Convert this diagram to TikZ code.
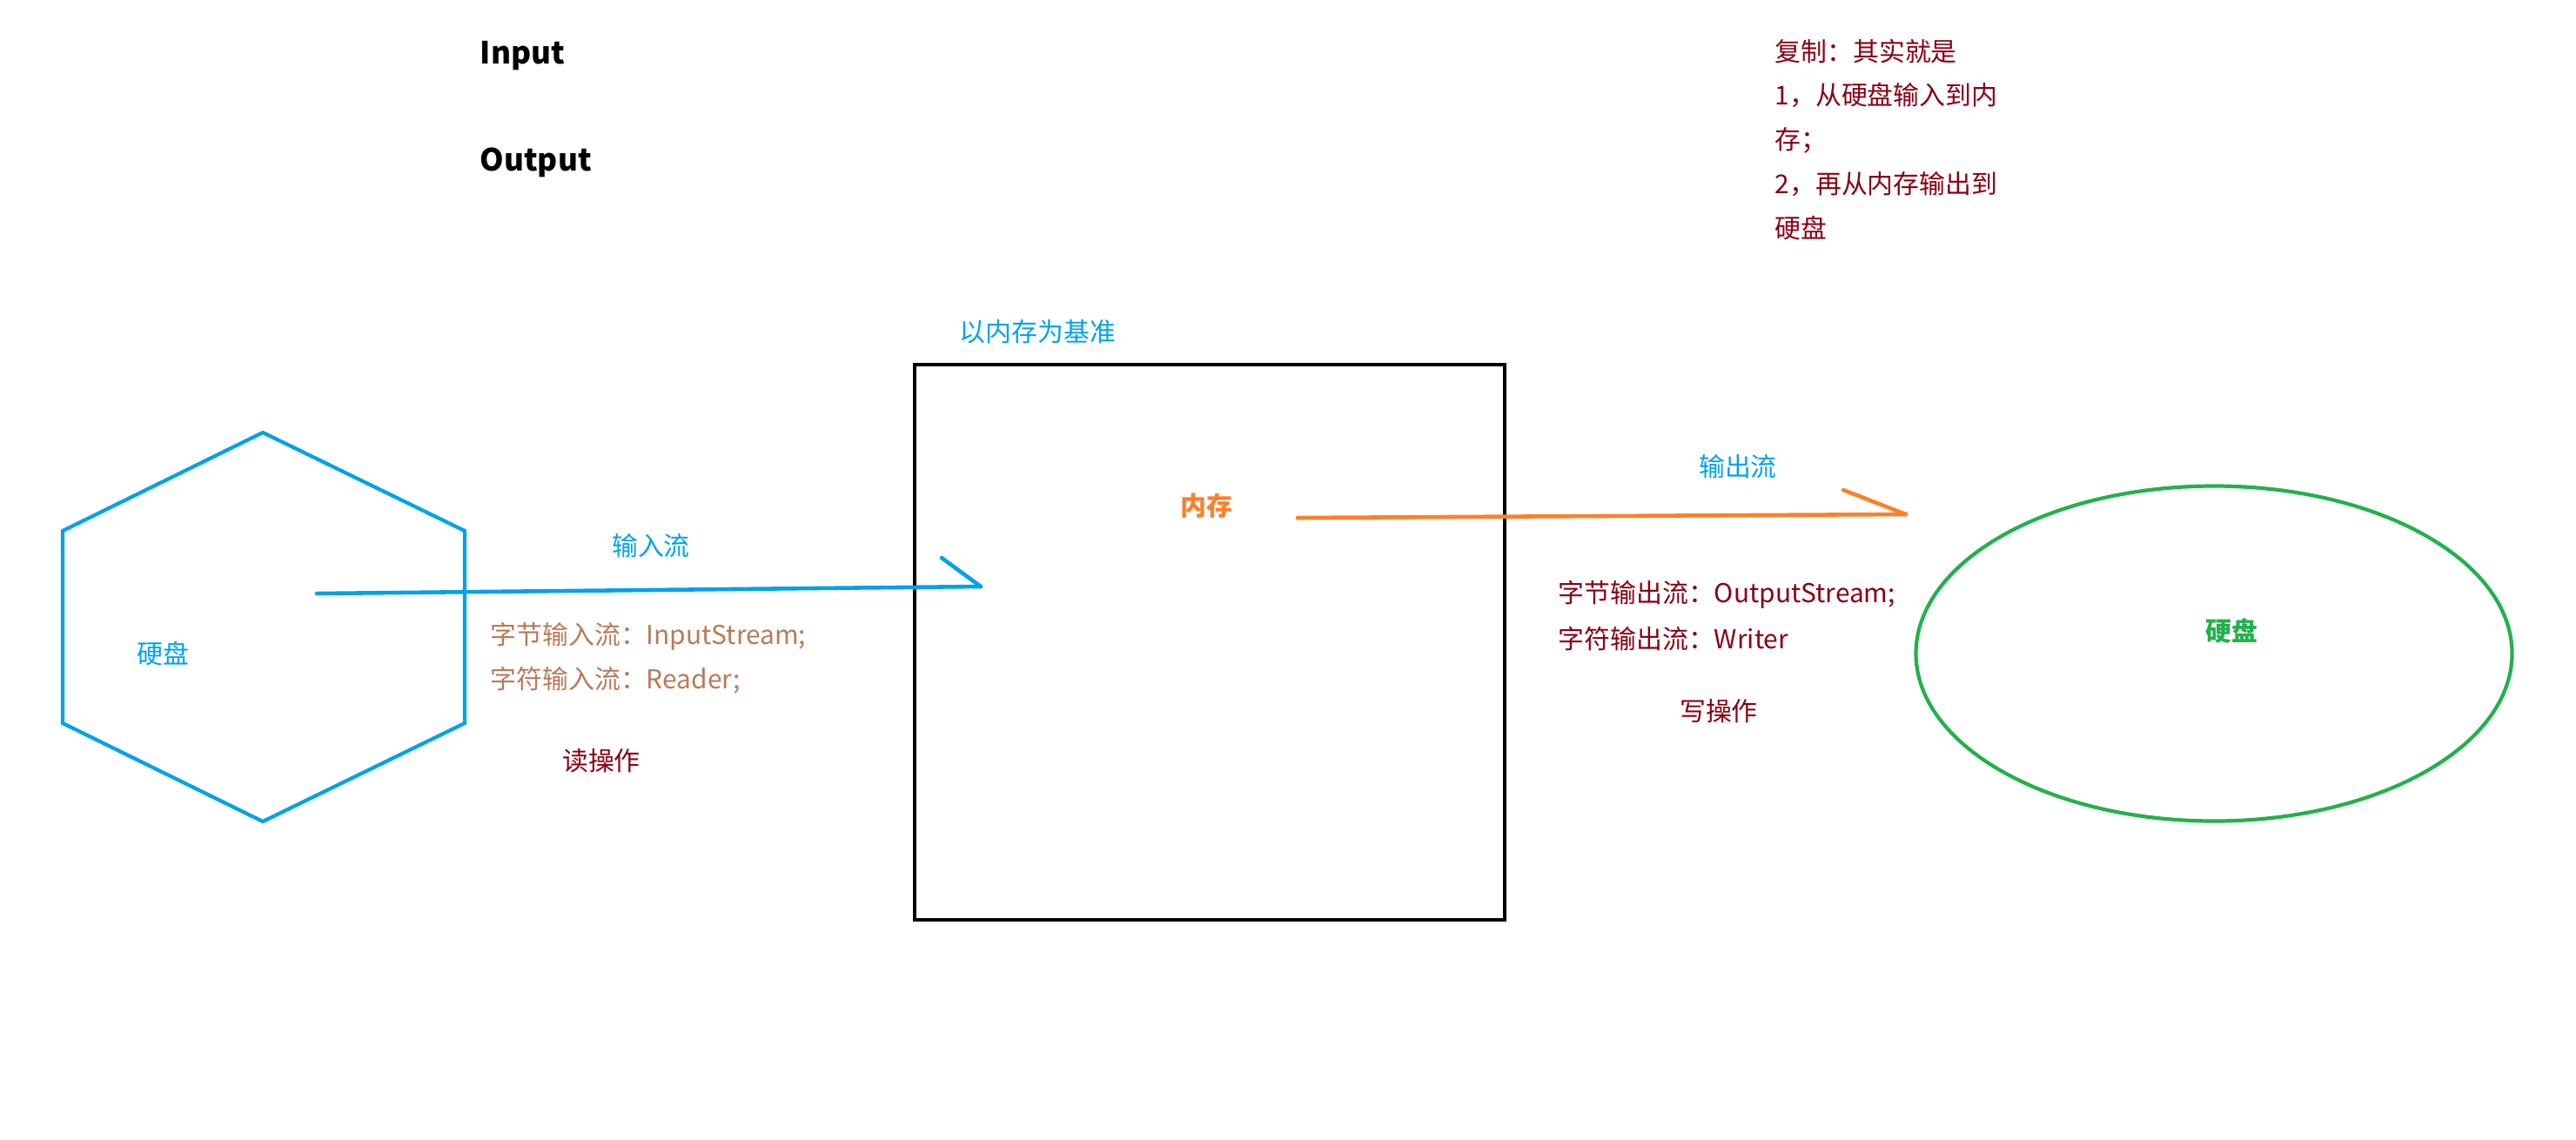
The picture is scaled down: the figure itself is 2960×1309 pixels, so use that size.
\documentclass[tikz,border=0pt]{standalone}
\usepackage{fontspec}
\setmainfont{Noto Sans CJK SC}
\usetikzlibrary{shapes.geometric}
\definecolor{paintblue}{RGB}{0,162,232}
\definecolor{paintorange}{RGB}{255,127,39}
\definecolor{paintgreen}{RGB}{34,177,76}
\definecolor{paintred}{RGB}{136,0,21}
\definecolor{paintbrown}{RGB}{185,122,87}

\begin{document}
\begin{tikzpicture}[x=0.1mm, y=-0.1mm, every node/.style={font=\fontsize{8.5}{14.5}\selectfont, inner sep=0pt},
	blueline/.style={paintblue, line width=1.3pt, line cap=round},
	orangeline/.style={paintorange, line width=1.3pt, line cap=round},
	title/.style={font=\fontsize{10}{12}\selectfont\bfseries, anchor=west}]
	\useasboundingbox (0,0) rectangle (2960,1309);
	\node[title] (in) at (551,64) {Input};
	\node[title] (out) at (551,187) {Output};
	\node[paintred, anchor=north west, align=left] (copy) at (2039,44) {复制：其实就是\\1，从硬盘输入到内\\存；\\2，再从内存输出到\\硬盘};
	% disk on the left
	\draw[paintblue, line width=1.2pt] (302,497) -- (534,610) -- (534,831) -- (302,944) -- (72,831) -- (72,610) -- cycle;
	\node[paintblue] (disk1) at (187,751) {硬盘};
	% memory
	\node[draw, line width=1.3pt, minimum width=67.8mm, minimum height=63.8mm] (ram) at (1390,738) {};
	\node[paintblue, anchor=west] (base) at (1102,381) {以内存为基准};
	\node[paintorange, font=\fontsize{8.5}{10}\selectfont\bfseries] (mem) at (1386,581) {内存};
	% disk on the right
	\node[draw=paintgreen, line width=1.2pt, ellipse, minimum width=68.5mm, minimum height=38.5mm] (disk2) at (2544,751) {};
	\node[paintgreen, font=\fontsize{8.5}{10}\selectfont\bfseries] (disk2txt) at (2564,725) {硬盘};
	% read
	\coordinate (inS) at (364,682);
	\coordinate (inE) at (1127,674);
	\draw[blueline] (inS) -- (inE);
	\draw[blueline] (inE) -- ++(-45,-33);
	\node[paintblue] (inlbl) at (748,627) {输入流};
	\node[paintbrown, anchor=west] (rd1) at (563,731) {字节输入流：InputStream;};
	\node[paintbrown, anchor=west] (rd2) at (563,782) {字符输入流：Reader;};
	\node[paintred] (read) at (691,874) {读操作};
	% write
	\coordinate (outS) at (1491,595);
	\coordinate (outE) at (2190,591);
	\draw[orangeline] (outS) -- (outE);
	\draw[orangeline] (outE) -- ++(-72,-28);
	\node[paintblue] (outlbl) at (1997,536) {输出流};
	\node[paintred, anchor=west] (wr1) at (1790,683) {字节输出流：OutputStream;};
	\node[paintred, anchor=west] (wr2) at (1790,734) {字符输出流：Writer};
	\node[paintred] (write) at (1975,817) {写操作};
\end{tikzpicture}
\end{document}
